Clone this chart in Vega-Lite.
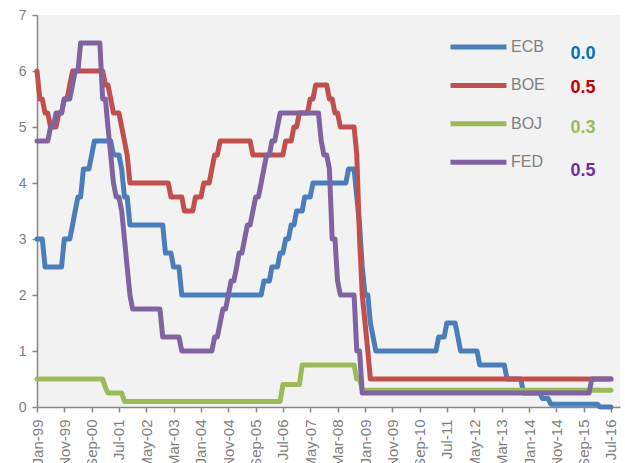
{
  "$schema": "https://vega.github.io/schema/vega-lite/v6.json",
  "autosize": {"type": "none"},
  "padding": {"left": 37, "top": 15, "right": 5, "bottom": 56},
  "width": 583,
  "height": 392,
  "background": "#ffffff",
  "config": {
    "view": {"fill": "#f2f2f2", "stroke": null},
    "axis": {
      "domainColor": "#868686", "domainWidth": 1.5, "tickColor": "#868686", "tickWidth": 1.5, "tickSize": 5,
      "labelColor": "#7f7f7f", "labelFont": "Liberation Sans", "labelFontSize": 14, "grid": false, "title": null,
      "labelOverlap": false
    },
    "text": {"font": "Liberation Sans"}
  },
  "resolve": {"axis": {"x": "independent", "y": "independent"}},
  "datasets": {
    "latest": [
      {"bank": "ECB", "rate": 0.0},
      {"bank": "BOE", "rate": 0.5},
      {"bank": "BOJ", "rate": 0.3},
      {"bank": "FED", "rate": 0.5}
    ],
    "rates": [
      {"bank": "ECB", "date": "1999-01-01", "rate": 3.0},
      {"bank": "ECB", "date": "1999-03-01", "rate": 3.0},
      {"bank": "ECB", "date": "1999-04-01", "rate": 2.5},
      {"bank": "ECB", "date": "1999-10-01", "rate": 2.5},
      {"bank": "ECB", "date": "1999-11-01", "rate": 3.0},
      {"bank": "ECB", "date": "2000-01-01", "rate": 3.0},
      {"bank": "ECB", "date": "2000-02-01", "rate": 3.25},
      {"bank": "ECB", "date": "2000-03-01", "rate": 3.5},
      {"bank": "ECB", "date": "2000-04-01", "rate": 3.75},
      {"bank": "ECB", "date": "2000-05-01", "rate": 3.75},
      {"bank": "ECB", "date": "2000-06-01", "rate": 4.25},
      {"bank": "ECB", "date": "2000-08-01", "rate": 4.25},
      {"bank": "ECB", "date": "2000-09-01", "rate": 4.5},
      {"bank": "ECB", "date": "2000-10-01", "rate": 4.75},
      {"bank": "ECB", "date": "2001-04-01", "rate": 4.75},
      {"bank": "ECB", "date": "2001-05-01", "rate": 4.5},
      {"bank": "ECB", "date": "2001-07-01", "rate": 4.5},
      {"bank": "ECB", "date": "2001-08-01", "rate": 4.25},
      {"bank": "ECB", "date": "2001-09-01", "rate": 3.75},
      {"bank": "ECB", "date": "2001-10-01", "rate": 3.75},
      {"bank": "ECB", "date": "2001-11-01", "rate": 3.25},
      {"bank": "ECB", "date": "2002-11-01", "rate": 3.25},
      {"bank": "ECB", "date": "2002-12-01", "rate": 2.75},
      {"bank": "ECB", "date": "2003-02-01", "rate": 2.75},
      {"bank": "ECB", "date": "2003-03-01", "rate": 2.5},
      {"bank": "ECB", "date": "2003-05-01", "rate": 2.5},
      {"bank": "ECB", "date": "2003-06-01", "rate": 2.0},
      {"bank": "ECB", "date": "2005-11-01", "rate": 2.0},
      {"bank": "ECB", "date": "2005-12-01", "rate": 2.25},
      {"bank": "ECB", "date": "2006-02-01", "rate": 2.25},
      {"bank": "ECB", "date": "2006-03-01", "rate": 2.5},
      {"bank": "ECB", "date": "2006-05-01", "rate": 2.5},
      {"bank": "ECB", "date": "2006-06-01", "rate": 2.75},
      {"bank": "ECB", "date": "2006-07-01", "rate": 2.75},
      {"bank": "ECB", "date": "2006-08-01", "rate": 3.0},
      {"bank": "ECB", "date": "2006-09-01", "rate": 3.0},
      {"bank": "ECB", "date": "2006-10-01", "rate": 3.25},
      {"bank": "ECB", "date": "2006-11-01", "rate": 3.25},
      {"bank": "ECB", "date": "2006-12-01", "rate": 3.5},
      {"bank": "ECB", "date": "2007-02-01", "rate": 3.5},
      {"bank": "ECB", "date": "2007-03-01", "rate": 3.75},
      {"bank": "ECB", "date": "2007-05-01", "rate": 3.75},
      {"bank": "ECB", "date": "2007-06-01", "rate": 4.0},
      {"bank": "ECB", "date": "2008-06-01", "rate": 4.0},
      {"bank": "ECB", "date": "2008-07-01", "rate": 4.25},
      {"bank": "ECB", "date": "2008-09-01", "rate": 4.25},
      {"bank": "ECB", "date": "2008-10-01", "rate": 3.75},
      {"bank": "ECB", "date": "2008-11-01", "rate": 3.25},
      {"bank": "ECB", "date": "2008-12-01", "rate": 2.5},
      {"bank": "ECB", "date": "2009-01-01", "rate": 2.0},
      {"bank": "ECB", "date": "2009-02-01", "rate": 2.0},
      {"bank": "ECB", "date": "2009-03-01", "rate": 1.5},
      {"bank": "ECB", "date": "2009-04-01", "rate": 1.25},
      {"bank": "ECB", "date": "2009-05-01", "rate": 1.0},
      {"bank": "ECB", "date": "2011-03-01", "rate": 1.0},
      {"bank": "ECB", "date": "2011-04-01", "rate": 1.25},
      {"bank": "ECB", "date": "2011-06-01", "rate": 1.25},
      {"bank": "ECB", "date": "2011-07-01", "rate": 1.5},
      {"bank": "ECB", "date": "2011-10-01", "rate": 1.5},
      {"bank": "ECB", "date": "2011-11-01", "rate": 1.25},
      {"bank": "ECB", "date": "2011-12-01", "rate": 1.0},
      {"bank": "ECB", "date": "2012-06-01", "rate": 1.0},
      {"bank": "ECB", "date": "2012-07-01", "rate": 0.75},
      {"bank": "ECB", "date": "2013-04-01", "rate": 0.75},
      {"bank": "ECB", "date": "2013-05-01", "rate": 0.5},
      {"bank": "ECB", "date": "2013-10-01", "rate": 0.5},
      {"bank": "ECB", "date": "2013-11-01", "rate": 0.25},
      {"bank": "ECB", "date": "2014-05-01", "rate": 0.25},
      {"bank": "ECB", "date": "2014-06-01", "rate": 0.15},
      {"bank": "ECB", "date": "2014-08-01", "rate": 0.15},
      {"bank": "ECB", "date": "2014-09-01", "rate": 0.05},
      {"bank": "ECB", "date": "2016-02-01", "rate": 0.05},
      {"bank": "ECB", "date": "2016-03-01", "rate": 0.0},
      {"bank": "ECB", "date": "2016-07-01", "rate": 0.0},

      {"bank": "BOE", "date": "1999-01-01", "rate": 6.0},
      {"bank": "BOE", "date": "1999-02-01", "rate": 5.5},
      {"bank": "BOE", "date": "1999-03-01", "rate": 5.5},
      {"bank": "BOE", "date": "1999-04-01", "rate": 5.25},
      {"bank": "BOE", "date": "1999-05-01", "rate": 5.25},
      {"bank": "BOE", "date": "1999-06-01", "rate": 5.0},
      {"bank": "BOE", "date": "1999-08-01", "rate": 5.0},
      {"bank": "BOE", "date": "1999-09-01", "rate": 5.25},
      {"bank": "BOE", "date": "1999-10-01", "rate": 5.25},
      {"bank": "BOE", "date": "1999-11-01", "rate": 5.5},
      {"bank": "BOE", "date": "1999-12-01", "rate": 5.5},
      {"bank": "BOE", "date": "2000-01-01", "rate": 5.75},
      {"bank": "BOE", "date": "2000-02-01", "rate": 6.0},
      {"bank": "BOE", "date": "2001-01-01", "rate": 6.0},
      {"bank": "BOE", "date": "2001-02-01", "rate": 5.75},
      {"bank": "BOE", "date": "2001-03-01", "rate": 5.75},
      {"bank": "BOE", "date": "2001-04-01", "rate": 5.5},
      {"bank": "BOE", "date": "2001-05-01", "rate": 5.25},
      {"bank": "BOE", "date": "2001-07-01", "rate": 5.25},
      {"bank": "BOE", "date": "2001-08-01", "rate": 5.0},
      {"bank": "BOE", "date": "2001-09-01", "rate": 4.75},
      {"bank": "BOE", "date": "2001-10-01", "rate": 4.5},
      {"bank": "BOE", "date": "2001-11-01", "rate": 4.0},
      {"bank": "BOE", "date": "2003-01-01", "rate": 4.0},
      {"bank": "BOE", "date": "2003-02-01", "rate": 3.75},
      {"bank": "BOE", "date": "2003-06-01", "rate": 3.75},
      {"bank": "BOE", "date": "2003-07-01", "rate": 3.5},
      {"bank": "BOE", "date": "2003-10-01", "rate": 3.5},
      {"bank": "BOE", "date": "2003-11-01", "rate": 3.75},
      {"bank": "BOE", "date": "2004-01-01", "rate": 3.75},
      {"bank": "BOE", "date": "2004-02-01", "rate": 4.0},
      {"bank": "BOE", "date": "2004-04-01", "rate": 4.0},
      {"bank": "BOE", "date": "2004-05-01", "rate": 4.25},
      {"bank": "BOE", "date": "2004-06-01", "rate": 4.5},
      {"bank": "BOE", "date": "2004-07-01", "rate": 4.5},
      {"bank": "BOE", "date": "2004-08-01", "rate": 4.75},
      {"bank": "BOE", "date": "2005-07-01", "rate": 4.75},
      {"bank": "BOE", "date": "2005-08-01", "rate": 4.5},
      {"bank": "BOE", "date": "2006-07-01", "rate": 4.5},
      {"bank": "BOE", "date": "2006-08-01", "rate": 4.75},
      {"bank": "BOE", "date": "2006-10-01", "rate": 4.75},
      {"bank": "BOE", "date": "2006-11-01", "rate": 5.0},
      {"bank": "BOE", "date": "2006-12-01", "rate": 5.0},
      {"bank": "BOE", "date": "2007-01-01", "rate": 5.25},
      {"bank": "BOE", "date": "2007-04-01", "rate": 5.25},
      {"bank": "BOE", "date": "2007-05-01", "rate": 5.5},
      {"bank": "BOE", "date": "2007-06-01", "rate": 5.5},
      {"bank": "BOE", "date": "2007-07-01", "rate": 5.75},
      {"bank": "BOE", "date": "2007-11-01", "rate": 5.75},
      {"bank": "BOE", "date": "2007-12-01", "rate": 5.5},
      {"bank": "BOE", "date": "2008-01-01", "rate": 5.5},
      {"bank": "BOE", "date": "2008-02-01", "rate": 5.25},
      {"bank": "BOE", "date": "2008-03-01", "rate": 5.25},
      {"bank": "BOE", "date": "2008-04-01", "rate": 5.0},
      {"bank": "BOE", "date": "2008-09-01", "rate": 5.0},
      {"bank": "BOE", "date": "2008-10-01", "rate": 4.5},
      {"bank": "BOE", "date": "2008-11-01", "rate": 3.0},
      {"bank": "BOE", "date": "2008-12-01", "rate": 2.0},
      {"bank": "BOE", "date": "2009-01-01", "rate": 1.5},
      {"bank": "BOE", "date": "2009-02-01", "rate": 1.0},
      {"bank": "BOE", "date": "2009-03-01", "rate": 0.5},
      {"bank": "BOE", "date": "2016-07-01", "rate": 0.5},

      {"bank": "BOJ", "date": "1999-01-01", "rate": 0.5},
      {"bank": "BOJ", "date": "2001-01-01", "rate": 0.5},
      {"bank": "BOJ", "date": "2001-02-01", "rate": 0.35},
      {"bank": "BOJ", "date": "2001-03-01", "rate": 0.25},
      {"bank": "BOJ", "date": "2001-08-01", "rate": 0.25},
      {"bank": "BOJ", "date": "2001-09-01", "rate": 0.1},
      {"bank": "BOJ", "date": "2006-06-01", "rate": 0.1},
      {"bank": "BOJ", "date": "2006-07-01", "rate": 0.4},
      {"bank": "BOJ", "date": "2007-01-01", "rate": 0.4},
      {"bank": "BOJ", "date": "2007-02-01", "rate": 0.75},
      {"bank": "BOJ", "date": "2008-09-01", "rate": 0.75},
      {"bank": "BOJ", "date": "2008-10-01", "rate": 0.5},
      {"bank": "BOJ", "date": "2008-11-01", "rate": 0.5},
      {"bank": "BOJ", "date": "2008-12-01", "rate": 0.3},
      {"bank": "BOJ", "date": "2016-07-01", "rate": 0.3},

      {"bank": "FED", "date": "1999-01-01", "rate": 4.75},
      {"bank": "FED", "date": "1999-05-01", "rate": 4.75},
      {"bank": "FED", "date": "1999-06-01", "rate": 5.0},
      {"bank": "FED", "date": "1999-07-01", "rate": 5.0},
      {"bank": "FED", "date": "1999-08-01", "rate": 5.25},
      {"bank": "FED", "date": "1999-10-01", "rate": 5.25},
      {"bank": "FED", "date": "1999-11-01", "rate": 5.5},
      {"bank": "FED", "date": "2000-01-01", "rate": 5.5},
      {"bank": "FED", "date": "2000-02-01", "rate": 5.75},
      {"bank": "FED", "date": "2000-03-01", "rate": 6.0},
      {"bank": "FED", "date": "2000-04-01", "rate": 6.0},
      {"bank": "FED", "date": "2000-05-01", "rate": 6.5},
      {"bank": "FED", "date": "2000-12-01", "rate": 6.5},
      {"bank": "FED", "date": "2001-01-01", "rate": 5.5},
      {"bank": "FED", "date": "2001-02-01", "rate": 5.5},
      {"bank": "FED", "date": "2001-03-01", "rate": 5.0},
      {"bank": "FED", "date": "2001-04-01", "rate": 4.5},
      {"bank": "FED", "date": "2001-05-01", "rate": 4.0},
      {"bank": "FED", "date": "2001-06-01", "rate": 3.75},
      {"bank": "FED", "date": "2001-07-01", "rate": 3.75},
      {"bank": "FED", "date": "2001-08-01", "rate": 3.5},
      {"bank": "FED", "date": "2001-09-01", "rate": 3.0},
      {"bank": "FED", "date": "2001-10-01", "rate": 2.5},
      {"bank": "FED", "date": "2001-11-01", "rate": 2.0},
      {"bank": "FED", "date": "2001-12-01", "rate": 1.75},
      {"bank": "FED", "date": "2002-10-01", "rate": 1.75},
      {"bank": "FED", "date": "2002-11-01", "rate": 1.25},
      {"bank": "FED", "date": "2003-05-01", "rate": 1.25},
      {"bank": "FED", "date": "2003-06-01", "rate": 1.0},
      {"bank": "FED", "date": "2004-05-01", "rate": 1.0},
      {"bank": "FED", "date": "2004-06-01", "rate": 1.25},
      {"bank": "FED", "date": "2004-07-01", "rate": 1.25},
      {"bank": "FED", "date": "2004-08-01", "rate": 1.5},
      {"bank": "FED", "date": "2004-09-01", "rate": 1.75},
      {"bank": "FED", "date": "2004-10-01", "rate": 1.75},
      {"bank": "FED", "date": "2004-11-01", "rate": 2.0},
      {"bank": "FED", "date": "2004-12-01", "rate": 2.25},
      {"bank": "FED", "date": "2005-01-01", "rate": 2.25},
      {"bank": "FED", "date": "2005-02-01", "rate": 2.5},
      {"bank": "FED", "date": "2005-03-01", "rate": 2.75},
      {"bank": "FED", "date": "2005-04-01", "rate": 2.75},
      {"bank": "FED", "date": "2005-05-01", "rate": 3.0},
      {"bank": "FED", "date": "2005-06-01", "rate": 3.25},
      {"bank": "FED", "date": "2005-07-01", "rate": 3.25},
      {"bank": "FED", "date": "2005-08-01", "rate": 3.5},
      {"bank": "FED", "date": "2005-09-01", "rate": 3.75},
      {"bank": "FED", "date": "2005-10-01", "rate": 3.75},
      {"bank": "FED", "date": "2005-11-01", "rate": 4.0},
      {"bank": "FED", "date": "2005-12-01", "rate": 4.25},
      {"bank": "FED", "date": "2006-01-01", "rate": 4.5},
      {"bank": "FED", "date": "2006-02-01", "rate": 4.5},
      {"bank": "FED", "date": "2006-03-01", "rate": 4.75},
      {"bank": "FED", "date": "2006-04-01", "rate": 4.75},
      {"bank": "FED", "date": "2006-05-01", "rate": 5.0},
      {"bank": "FED", "date": "2006-06-01", "rate": 5.25},
      {"bank": "FED", "date": "2007-08-01", "rate": 5.25},
      {"bank": "FED", "date": "2007-09-01", "rate": 4.75},
      {"bank": "FED", "date": "2007-10-01", "rate": 4.5},
      {"bank": "FED", "date": "2007-11-01", "rate": 4.5},
      {"bank": "FED", "date": "2007-12-01", "rate": 4.25},
      {"bank": "FED", "date": "2008-01-01", "rate": 3.0},
      {"bank": "FED", "date": "2008-02-01", "rate": 3.0},
      {"bank": "FED", "date": "2008-03-01", "rate": 2.25},
      {"bank": "FED", "date": "2008-04-01", "rate": 2.0},
      {"bank": "FED", "date": "2008-09-01", "rate": 2.0},
      {"bank": "FED", "date": "2008-10-01", "rate": 1.0},
      {"bank": "FED", "date": "2008-11-01", "rate": 1.0},
      {"bank": "FED", "date": "2008-12-01", "rate": 0.25},
      {"bank": "FED", "date": "2015-11-01", "rate": 0.25},
      {"bank": "FED", "date": "2015-12-01", "rate": 0.5},
      {"bank": "FED", "date": "2016-07-01", "rate": 0.5}
    ]
  },
  "layer": [
    {
      "data": {"name": "rates"},
      "mark": {"type": "line", "strokeWidth": 5, "strokeJoin": "round", "strokeCap": "round"},
      "encoding": {
        "x": {
          "field": "date", "type": "temporal",
          "scale": {"type": "utc", "domain": [{"year": 1999, "month": 1, "date": 1, "utc": true}, {"year": 2016, "month": 10, "date": 10, "utc": true}]},
          "axis": {
            "format": "%b-%y", "labelAngle": 270, "labelPadding": 7, "labelFontSize": 15, "labelOverlap": false, "labelBound": false, "labelFlush": false,
            "values": [
              {"year": 1999, "month": 1, "date": 1, "utc": true},
              {"year": 1999, "month": 11, "date": 1, "utc": true},
              {"year": 2000, "month": 9, "date": 1, "utc": true},
              {"year": 2001, "month": 7, "date": 1, "utc": true},
              {"year": 2002, "month": 5, "date": 1, "utc": true},
              {"year": 2003, "month": 3, "date": 1, "utc": true},
              {"year": 2004, "month": 1, "date": 1, "utc": true},
              {"year": 2004, "month": 11, "date": 1, "utc": true},
              {"year": 2005, "month": 9, "date": 1, "utc": true},
              {"year": 2006, "month": 7, "date": 1, "utc": true},
              {"year": 2007, "month": 5, "date": 1, "utc": true},
              {"year": 2008, "month": 3, "date": 1, "utc": true},
              {"year": 2009, "month": 1, "date": 1, "utc": true},
              {"year": 2009, "month": 11, "date": 1, "utc": true},
              {"year": 2010, "month": 9, "date": 1, "utc": true},
              {"year": 2011, "month": 7, "date": 1, "utc": true},
              {"year": 2012, "month": 5, "date": 1, "utc": true},
              {"year": 2013, "month": 3, "date": 1, "utc": true},
              {"year": 2014, "month": 1, "date": 1, "utc": true},
              {"year": 2014, "month": 11, "date": 1, "utc": true},
              {"year": 2015, "month": 9, "date": 1, "utc": true},
              {"year": 2016, "month": 7, "date": 1, "utc": true}
            ]
          }
        },
        "y": {
          "field": "rate", "type": "quantitative",
          "scale": {"domain": [0, 7], "nice": false},
          "axis": {"values": [0, 1, 2, 3, 4, 5, 6, 7], "format": "d", "labelPadding": 6}
        },
        "color": {
          "field": "bank", "type": "nominal",
          "scale": {"domain": ["ECB", "BOE", "BOJ", "FED"], "range": ["#4a7ebb", "#c0504d", "#9bbb59", "#8064a2"]},
          "legend": {
            "orient": "none", "legendX": 425, "legendY": 15.5, "title": null,
            "symbolType": "M-2,0H2", "symbolSize": 784, "symbolStrokeWidth": 5,
            "labelFont": "Liberation Sans", "labelFontSize": 16, "labelColor": "#7f7f7f",
            "labelOffset": 16, "rowPadding": 11.4
          }
        },
        "order": {"field": "date", "type": "temporal"}
      }
    },
    {
      "data": {"name": "latest"},
      "transform": [{"filter": "datum.bank === 'ECB'"}],
      "mark": {"type": "text", "align": "left", "baseline": "middle", "fontSize": 18, "fontWeight": "bold", "color": "#0070c0"},
      "encoding": {
        "x": {"datum": {"year": 2015, "month": 4, "date": 8, "utc": true}, "type": "temporal", "axis": null},
        "y": {"datum": 6.3, "type": "quantitative", "axis": null},
        "text": {"field": "rate", "type": "quantitative", "format": ".1f"}
      }
    },
    {
      "data": {"name": "latest"},
      "transform": [{"filter": "datum.bank === 'BOE'"}],
      "mark": {"type": "text", "align": "left", "baseline": "middle", "fontSize": 18, "fontWeight": "bold", "color": "#c00000"},
      "encoding": {
        "x": {"datum": {"year": 2015, "month": 4, "date": 8, "utc": true}, "type": "temporal", "axis": null},
        "y": {"datum": 5.69, "type": "quantitative", "axis": null},
        "text": {"field": "rate", "type": "quantitative", "format": ".1f"}
      }
    },
    {
      "data": {"name": "latest"},
      "transform": [{"filter": "datum.bank === 'BOJ'"}],
      "mark": {"type": "text", "align": "left", "baseline": "middle", "fontSize": 18, "fontWeight": "bold", "color": "#9bbb59"},
      "encoding": {
        "x": {"datum": {"year": 2015, "month": 4, "date": 8, "utc": true}, "type": "temporal", "axis": null},
        "y": {"datum": 4.98, "type": "quantitative", "axis": null},
        "text": {"field": "rate", "type": "quantitative", "format": ".1f"}
      }
    },
    {
      "data": {"name": "latest"},
      "transform": [{"filter": "datum.bank === 'FED'"}],
      "mark": {"type": "text", "align": "left", "baseline": "middle", "fontSize": 18, "fontWeight": "bold", "color": "#7030a0"},
      "encoding": {
        "x": {"datum": {"year": 2015, "month": 4, "date": 8, "utc": true}, "type": "temporal", "axis": null},
        "y": {"datum": 4.21, "type": "quantitative", "axis": null},
        "text": {"field": "rate", "type": "quantitative", "format": ".1f"}
      }
    }
  ]
}
